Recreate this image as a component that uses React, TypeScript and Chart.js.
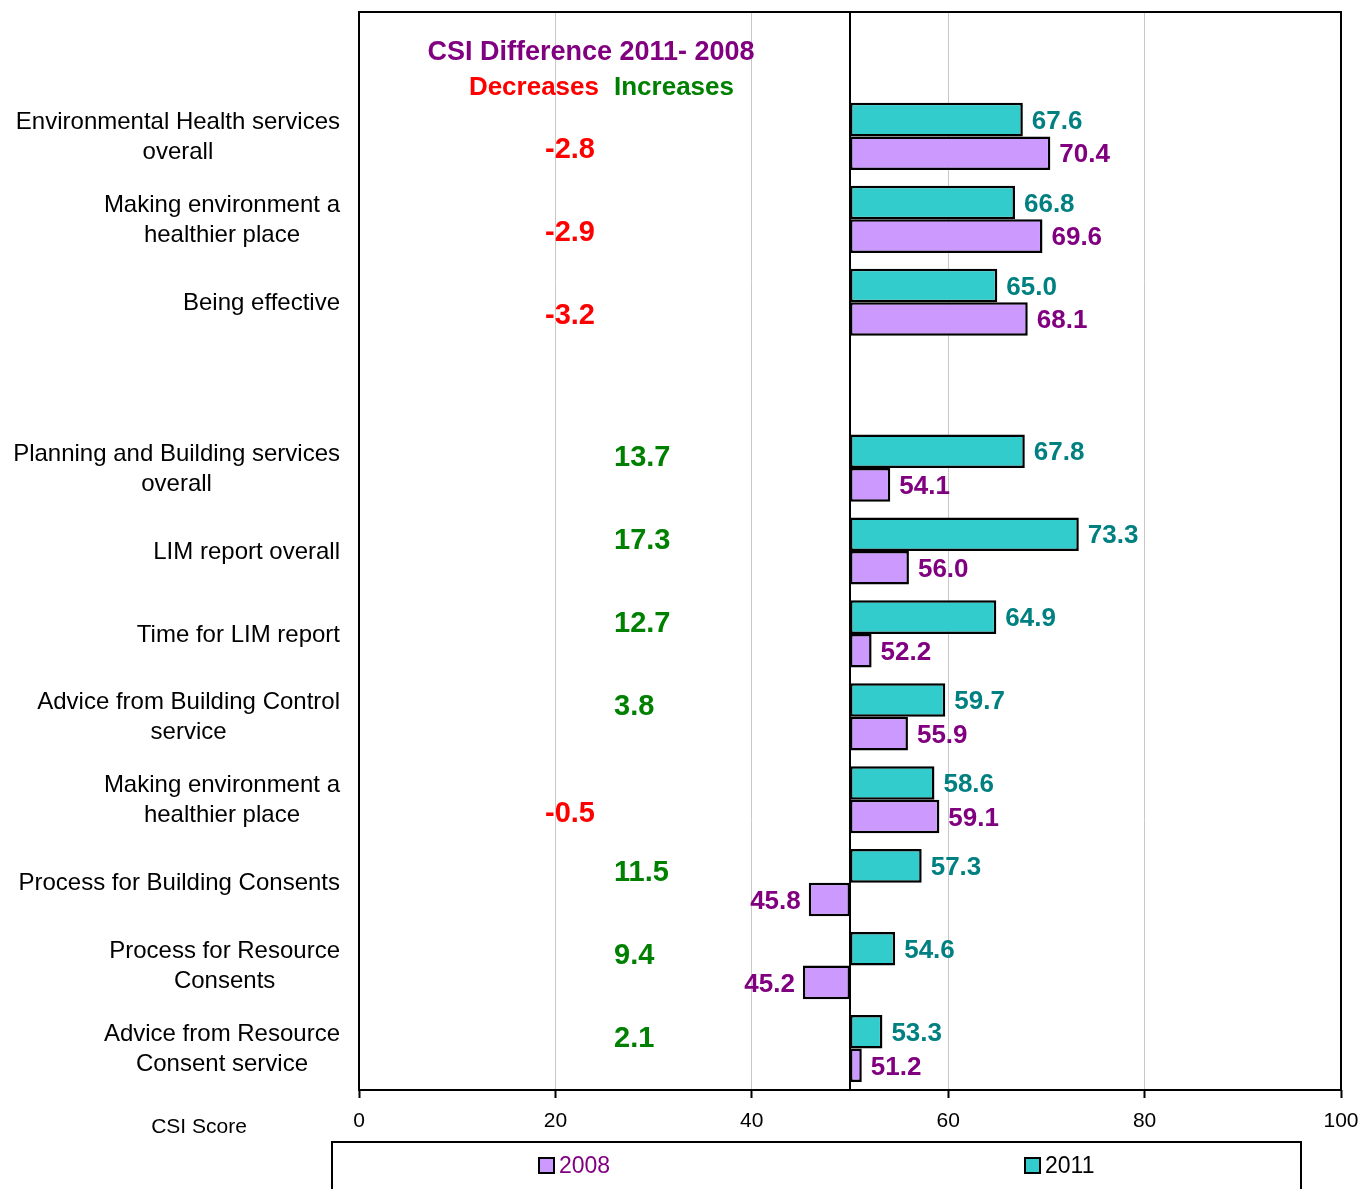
import React, { useEffect, useRef } from "react";
import { Chart, registerables } from "chart.js";

Chart.register(...registerables);

const categories: string[][] = [
  [],
  ["Environmental Health services", "overall"],
  ["Making environment a", "healthier place"],
  ["Being effective"],
  [],
  ["Planning and Building services", "overall"],
  ["LIM report overall"],
  ["Time for LIM report"],
  ["Advice from Building Control", "service"],
  ["Making environment a", "healthier place"],
  ["Process for Building Consents"],
  ["Process for Resource", "Consents"],
  ["Advice from Resource", "Consent service"],
];

const values2011: (number | null)[] = [null, 67.6, 66.8, 65.0, null, 67.8, 73.3, 64.9, 59.7, 58.6, 57.3, 54.6, 53.3];
const values2008: (number | null)[] = [null, 70.4, 69.6, 68.1, null, 54.1, 56.0, 52.2, 55.9, 59.1, 45.8, 45.2, 51.2];
const differences: (number | null)[] = [null, -2.8, -2.9, -3.2, null, 13.7, 17.3, 12.7, 3.8, -0.5, 11.5, 9.4, 2.1];
const xTicks = [0, 20, 40, 60, 80, 100];
const baseValue = 50;
const series = ["2011", "2008"];
const diffTitle = "CSI Difference 2011- 2008";
const decreasesText = "Decreases";
const increasesText = "Increases";
const axisTitle = "CSI Score";

const FONT = '"Liberation Sans", Arial, sans-serif';
const TEAL_FILL = "#33CCCC";
const PURPLE_FILL = "#CC99FF";
const TEAL_TEXT = "#008080";
const PURPLE_TEXT = "#800080";
const RED = "#FF0000";
const GREEN = "#008000";

const drawPlugin = {
  id: "customDraw",
  beforeDatasetsDraw(chart: any) {
    const { ctx, chartArea, scales } = chart;
    const x50 = scales.x.getPixelForValue(baseValue);
    ctx.save();
    ctx.strokeStyle = "#000";
    ctx.lineWidth = 2;
    ctx.beginPath();
    ctx.moveTo(x50, chartArea.top);
    ctx.lineTo(x50, chartArea.bottom);
    ctx.stroke();
    ctx.restore();
  },
  afterDatasetsDraw(chart: any) {
    const { ctx } = chart;
    ctx.save();
    ctx.font = `bold 26px ${FONT}`;
    ctx.textBaseline = "middle";
    chart.data.datasets.forEach((ds: any, di: number) => {
      const meta = chart.getDatasetMeta(di);
      meta.data.forEach((el: any, i: number) => {
        const v = ds.data[i];
        if (v === null || v === undefined) return;
        ctx.fillStyle = di === 0 ? TEAL_TEXT : PURPLE_TEXT;
        const txt = v.toFixed(1);
        if (v >= baseValue) {
          ctx.textAlign = "left";
          ctx.fillText(txt, el.x + 9, el.y + 2);
        } else {
          ctx.textAlign = "right";
          ctx.fillText(txt, el.x - 8, el.y + 2);
        }
      });
    });
    ctx.restore();
  },
  afterDraw(chart: any) {
    const { ctx, chartArea, scales } = chart;
    const ys = scales.y;
    ctx.save();
    // frame
    ctx.strokeStyle = "#000";
    ctx.lineWidth = 2;
    ctx.strokeRect(chartArea.left, chartArea.top, chartArea.right - chartArea.left, chartArea.bottom - chartArea.top);

    // category labels
    ctx.fillStyle = "#000";
    ctx.font = `24px ${FONT}`;
    ctx.textBaseline = "middle";
    ctx.textAlign = "center";
    const lineH = 30;
    categories.forEach((lines, i) => {
      if (!lines.length) return;
      const cy = ys.getPixelForValue(i) + 1;
      const w = Math.max(...lines.map((l) => ctx.measureText(l).width));
      const cx = 340 - w / 2;
      const y0 = cy - ((lines.length - 1) * lineH) / 2;
      lines.forEach((l, k) => ctx.fillText(l, cx, y0 + k * lineH));
    });

    // header
    const hy = ys.getPixelForValue(0);
    ctx.font = `bold 27px ${FONT}`;
    ctx.fillStyle = PURPLE_TEXT;
    ctx.textAlign = "center";
    ctx.fillText(diffTitle, 591, hy - 1);
    ctx.font = `bold 26px ${FONT}`;
    ctx.fillStyle = RED;
    ctx.textAlign = "right";
    ctx.fillText(decreasesText, 599, hy + 34);
    ctx.fillStyle = GREEN;
    ctx.textAlign = "left";
    ctx.fillText(increasesText, 614, hy + 34);

    // differences
    ctx.font = `bold 29px ${FONT}`;
    differences.forEach((d, i) => {
      if (d === null) return;
      const cy = ys.getPixelForValue(i);
      if (d < 0) {
        ctx.fillStyle = RED;
        ctx.textAlign = "right";
        ctx.fillText(d.toFixed(1), 595, cy + 14);
      } else {
        ctx.fillStyle = GREEN;
        ctx.textAlign = "left";
        ctx.fillText(d.toFixed(1), 614, cy - 10);
      }
    });

    // axis title
    ctx.font = `21px ${FONT}`;
    ctx.fillStyle = "#000";
    ctx.textAlign = "center";
    ctx.fillText(axisTitle, 199, 1127);

    // legend
    ctx.lineWidth = 2;
    ctx.strokeStyle = "#000";
    ctx.strokeRect(332, 1142, 969, 120);
    const legendItems = [
      { name: series[1], fill: PURPLE_FILL, text: PURPLE_TEXT, x: 538 },
      { name: series[0], fill: TEAL_FILL, text: "#000", x: 1024 },
    ];
    ctx.font = `23px ${FONT}`;
    ctx.textAlign = "left";
    legendItems.forEach((it) => {
      ctx.fillStyle = it.fill;
      ctx.fillRect(it.x + 1, 1158, 15, 15);
      ctx.strokeRect(it.x + 1, 1158, 15, 15);
      ctx.fillStyle = it.text;
      ctx.fillText(it.name, it.x + 21, 1167);
    });
    ctx.restore();
  },
};

export default function App() {
  const ref = useRef<HTMLCanvasElement | null>(null);
  useEffect(() => {
    if (!ref.current) return;
    const chart = new Chart(ref.current, {
      type: "bar",
      data: {
        labels: categories.map((c) => c.join(" ")),
        datasets: [
          {
            label: series[0],
            data: values2011 as any,
            base: baseValue,
            backgroundColor: TEAL_FILL,
            borderColor: "#000",
            borderWidth: 2.5,
            borderSkipped: false,
            categoryPercentage: 0.81,
            barPercentage: 1.0,
          } as any,
          {
            label: series[1],
            data: values2008 as any,
            base: baseValue,
            backgroundColor: PURPLE_FILL,
            borderColor: "#000",
            borderWidth: 2.5,
            borderSkipped: false,
            categoryPercentage: 0.81,
            barPercentage: 1.0,
          } as any,
        ],
      },
      options: {
        indexAxis: "y",
        responsive: false,
        devicePixelRatio: 1,
        animation: false,
        layout: { padding: { left: 359, right: 22, top: 12, bottom: 54 } },
        plugins: { legend: { display: false }, tooltip: { enabled: false } },
        scales: {
          x: {
            type: "linear",
            min: 0,
            max: 100,
            afterBuildTicks: (scale: any) => {
              scale.ticks = xTicks.map((v) => ({ value: v }));
            },
            afterFit: (scale: any) => {
              scale.height = 45;
              scale.paddingLeft = 0;
              scale.paddingRight = 0;
            },
            ticks: {
              color: "#000",
              font: { family: FONT, size: 21 },
              padding: 11,
              maxRotation: 0,
            },
            grid: {
              color: (c: any) =>
                c.tick && (c.tick.value === 0 || c.tick.value === 100) ? "rgba(0,0,0,0)" : "#c8c8c8",
              lineWidth: 1,
              tickColor: "#000",
              tickLength: 8,
              tickWidth: 2,
            },
            border: { display: false },
          },
          y: {
            type: "category",
            display: false,
            offset: true,
          },
        },
      } as any,
      plugins: [drawPlugin],
    });
    return () => chart.destroy();
  }, []);
  return (
    <div style={{ position: "fixed", left: 0, top: 0, width: 1363, height: 1189, background: "#fff" }}>
      <canvas ref={ref} width={1363} height={1189} style={{ display: "block" }} />
    </div>
  );
}
